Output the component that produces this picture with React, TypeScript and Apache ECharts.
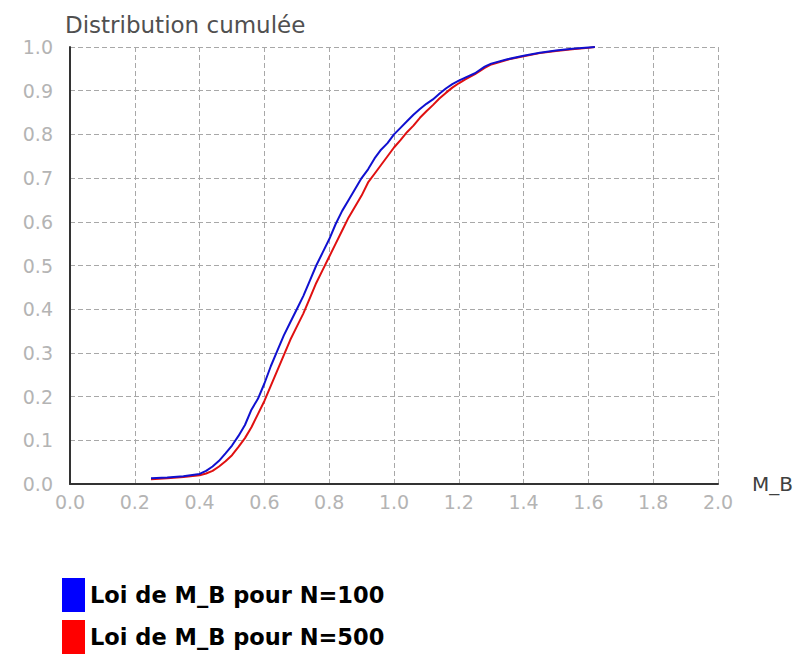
import React, { useEffect, useRef } from "react";
import * as echarts from "echarts";

const titleText = "Distribution cumulée";
const xAxisName = "M_B";
const seriesNames = ["Loi de M_B pour N=100", "Loi de M_B pour N=500"];

const xN100 = [0.25, 0.3, 0.35, 0.4, 0.42, 0.44, 0.46, 0.48, 0.5, 0.52, 0.54, 0.56, 0.58, 0.6, 0.62, 0.64, 0.66, 0.68, 0.7, 0.72, 0.74, 0.76, 0.78, 0.8, 0.82, 0.84, 0.86, 0.88, 0.9, 0.92, 0.94, 0.96, 0.98, 1.0, 1.02, 1.04, 1.06, 1.08, 1.1, 1.12, 1.14, 1.16, 1.18, 1.2, 1.22, 1.25, 1.28, 1.3, 1.35, 1.4, 1.45, 1.5, 1.55, 1.6, 1.62];
const yN100 = [0.013, 0.015, 0.018, 0.023, 0.03, 0.04, 0.053, 0.07, 0.088, 0.11, 0.135, 0.17, 0.195, 0.23, 0.27, 0.305, 0.34, 0.37, 0.4, 0.43, 0.465, 0.5, 0.53, 0.56, 0.595, 0.625, 0.65, 0.675, 0.7, 0.72, 0.745, 0.765, 0.78, 0.8, 0.815, 0.83, 0.845, 0.858, 0.87, 0.88, 0.893, 0.905, 0.915, 0.923, 0.93, 0.94, 0.955, 0.962, 0.972, 0.98, 0.987, 0.992, 0.996, 0.999, 1.0];

const xN500 = [0.25, 0.3, 0.35, 0.4, 0.42, 0.44, 0.46, 0.48, 0.5, 0.52, 0.54, 0.56, 0.58, 0.6, 0.62, 0.64, 0.66, 0.68, 0.7, 0.72, 0.74, 0.76, 0.78, 0.8, 0.82, 0.84, 0.86, 0.88, 0.9, 0.92, 0.94, 0.96, 0.98, 1.0, 1.02, 1.04, 1.06, 1.08, 1.1, 1.12, 1.14, 1.16, 1.18, 1.2, 1.22, 1.25, 1.28, 1.3, 1.35, 1.4, 1.45, 1.5, 1.55, 1.6, 1.62];
const yN500 = [0.011, 0.013, 0.016, 0.02, 0.024, 0.03, 0.04, 0.052, 0.066, 0.085, 0.105, 0.13, 0.16, 0.19, 0.225, 0.26, 0.295, 0.33, 0.36, 0.39, 0.425, 0.46, 0.49, 0.52, 0.55, 0.58, 0.61, 0.635, 0.66, 0.69, 0.71, 0.73, 0.75, 0.77, 0.787, 0.805, 0.82, 0.838, 0.853, 0.867, 0.882, 0.895, 0.907, 0.917, 0.926, 0.938, 0.952, 0.96, 0.971, 0.979, 0.986, 0.991, 0.995, 0.998, 1.0];

const zip = (xs: number[], ys: number[]) => xs.map((x, i) => [x, ys[i]]);

export default function App() {
  const ref = useRef<HTMLDivElement>(null);
  useEffect(() => {
    if (!ref.current) return;
    const chart = echarts.init(ref.current, null, { renderer: "svg" });
    const gridLine = { show: true, lineStyle: { color: "#a8a8a8", type: [5, 3] as any, width: 1 } };
    chart.setOption({
      animation: false,
      backgroundColor: "#ffffff",
      title: {
        text: titleText,
        left: 65,
        top: 13,
        padding: 0,
        textStyle: { fontFamily: "DejaVu Sans", fontSize: 23, fontWeight: "normal", color: "#505050" },
      },
      legend: {
        orient: "vertical",
        left: 62,
        top: 578,
        height: 76,
        itemWidth: 23,
        itemHeight: 34,
        itemGap: 8,
        padding: 0,
        icon: "rect",
        textStyle: { fontFamily: "DejaVu Sans", fontWeight: "bold", fontSize: 22.5, color: "#000" },
        data: [
          { name: seriesNames[0], itemStyle: { color: "#0000ff" } },
          { name: seriesNames[1], itemStyle: { color: "#ff0000" } },
        ],
      },
      grid: { left: 70, right: 78, top: 47, bottom: 170, containLabel: false },
      xAxis: {
        type: "value",
        min: 0,
        max: 2,
        interval: 0.2,
        name: xAxisName,
        nameLocation: "end",
        nameGap: 34,
        nameTextStyle: { fontFamily: "DejaVu Sans", fontSize: 20, color: "#404040", padding: [8, 0, 0, 0] },
        axisLine: { show: true, onZero: false, lineStyle: { color: "#333", width: 2 } },
        axisTick: { show: false },
        axisLabel: {
          margin: 8,
          fontFamily: "DejaVu Sans",
          fontSize: 19,
          color: "#b4b4b4",
          formatter: (v: number) => v.toFixed(1),
        },
        splitLine: gridLine,
      },
      yAxis: {
        type: "value",
        min: 0,
        max: 1,
        interval: 0.1,
        axisLine: { show: true, lineStyle: { color: "#333", width: 2 } },
        axisTick: { show: false },
        axisLabel: {
          margin: 17,
          fontFamily: "DejaVu Sans",
          fontSize: 19,
          color: "#b4b4b4",
          formatter: (v: number) => v.toFixed(1),
        },
        splitLine: gridLine,
      },
      series: [
        {
          name: seriesNames[0],
          type: "line",
          data: zip(xN100, yN100),
          showSymbol: false,
          symbol: "none",
          z: 3,
          lineStyle: { color: "#1010d0", width: 2 },
          itemStyle: { color: "#0000ff" },
        },
        {
          name: seriesNames[1],
          type: "line",
          data: zip(xN500, yN500),
          showSymbol: false,
          symbol: "none",
          z: 2,
          lineStyle: { color: "#e01010", width: 2 },
          itemStyle: { color: "#ff0000" },
        },
      ],
    });
    return () => chart.dispose();
  }, []);
  return <div ref={ref} style={{ width: 796, height: 654, position: "absolute", left: 0, top: 0 }} />;
}
